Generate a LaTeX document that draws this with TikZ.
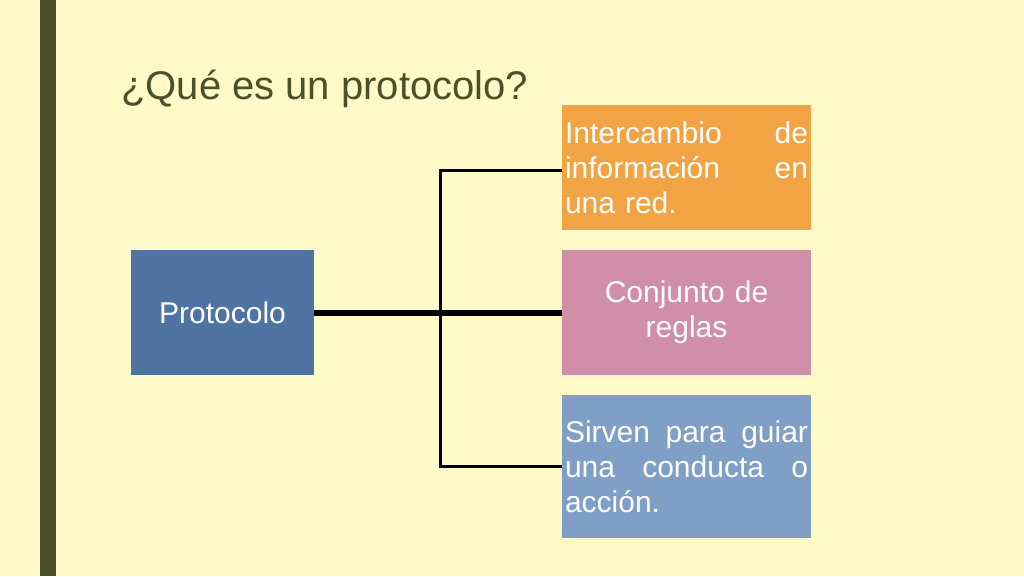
\documentclass[tikz,border=0pt]{standalone}
\usepackage{fontspec}
\setmainfont{Liberation Sans}
\definecolor{bgC}{RGB}{255,250,200}
\definecolor{barC}{RGB}{74,80,40}
\definecolor{protoC}{RGB}{79,116,164}
\definecolor{orangeC}{RGB}{242,164,68}
\definecolor{pinkC}{RGB}{208,142,167}
\definecolor{lblueC}{RGB}{127,159,199}
\newcommand{\jline}[1]{\leavevmode\hbox to\linewidth{#1}}
\tikzset{
  box/.style={rectangle, inner ysep=0pt, inner xsep=2.25pt, text=white, font=\fontsize{22.5pt}{26.25pt}\selectfont},
  thickline/.style={draw=black, line width=4.5pt},
  thinline/.style={draw=black, line width=2.25pt}
}
\begin{document}
\begin{tikzpicture}[x=0.75pt,y=-0.75pt]
\useasboundingbox (0,0) rectangle (1024,576);
\fill[bgC] (0,0) rectangle (1024,576);
\fill[barC] (40,0) rectangle (56,576);
\node[anchor=base west, inner sep=0pt, text=barC, font=\fontsize{30pt}{36pt}\selectfont] (title) at (121,99) {¿Qué es un protocolo?};
\node[box, fill=protoC, minimum width=137.25pt, minimum height=93.75pt, align=center] (proto) at (222.5,312.5) {Protocolo};
\node[box, fill=orangeC, minimum width=186.75pt, minimum height=93.75pt, text width=182.25pt, align=left] (orange) at (686.5,167.5) {\jline{Intercambio\hfill de}\\\jline{información\hfill en}\\una red.};
\node[box, fill=pinkC, minimum width=186.75pt, minimum height=93.75pt, text width=182.25pt, align=center] (pink) at (686.5,312.5) {Conjunto de\\reglas};
\node[box, fill=lblueC, minimum width=186.75pt, minimum height=107.25pt, text width=182.25pt, align=left] (lblue) at (686.5,466.5) {\jline{Sirven\hfill para\hfill guiar}\\\jline{una\hfill conducta\hfill o}\\acción.};
\coordinate (jx) at (440,312.5);
\draw[thickline] (proto.east) -- (pink.west);
\draw[thinline] ([yshift=-2pt]orange.west) -| (jx) |- (lblue.west);
\end{tikzpicture}
\end{document}
